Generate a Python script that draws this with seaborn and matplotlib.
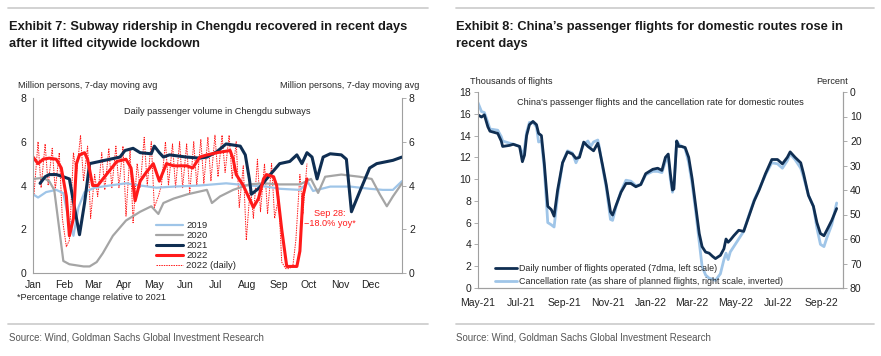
import numpy as np
import pandas as pd
import matplotlib
matplotlib.use('Agg')
import matplotlib.pyplot as plt
import matplotlib.dates as mdates
from matplotlib.lines import Line2D
import seaborn as sns

# ================= EXHIBIT 7: Chengdu subway (million persons, 7dma) =================
# x = day of year (0 = Jan 1)
days_2019 = [0, 5, 13, 23, 30, 35, 40, 45, 51, 61, 76, 92, 106, 122, 139, 165, 191, 214, 231, 244, 264, 272, 277, 294, 314, 333, 346, 356, 365]
vals_2019 = [3.6, 3.45, 3.7, 3.8, 3.65, 2.5, 1.7, 3.0, 3.7, 3.9, 4.0, 4.1, 4.0, 3.9, 3.95, 4.0, 4.1, 4.0, 3.95, 3.85, 3.8, 4.15, 3.75, 3.95, 3.95, 3.85, 3.8, 3.8, 4.2]

days_2020 = [0, 10, 16, 21, 26, 30, 36, 50, 56, 63, 69, 79, 92, 106, 117, 124, 129, 139, 153, 172, 177, 185, 198, 214, 228, 244, 264, 275, 282, 289, 305, 323, 335, 343, 350, 356, 365]
vals_2020 = [4.3, 4.35, 4.2, 3.8, 2.0, 0.55, 0.4, 0.3, 0.3, 0.5, 0.9, 1.7, 2.4, 2.8, 3.05, 2.7, 3.2, 3.4, 3.6, 3.8, 3.2, 3.5, 3.8, 4.05, 4.1, 4.05, 4.05, 4.3, 3.66, 4.4, 4.5, 4.4, 4.3, 3.6, 3.05, 3.5, 4.1]

days_2021 = [7, 12, 16, 23, 30, 36, 41, 46, 51, 56, 66, 76, 86, 91, 99, 106, 117, 120, 125, 129, 135, 152, 165, 172, 182, 191, 205, 210, 214, 216, 224, 231, 244, 254, 261, 266, 271, 276, 281, 287, 294, 305, 310, 315, 323, 333, 340, 356, 365]
vals_2021 = [4.1, 4.4, 4.5, 4.5, 4.4, 4.3, 3.0, 1.75, 3.2, 5.0, 5.1, 5.2, 5.3, 5.6, 5.7, 5.5, 5.45, 5.8, 5.5, 5.3, 5.4, 5.3, 5.25, 5.3, 5.55, 5.9, 5.8, 5.4, 4.3, 3.6, 3.9, 4.3, 5.0, 5.1, 5.4, 5.0, 5.5, 5.3, 4.3, 5.3, 5.45, 5.4, 5.2, 2.8, 3.7, 4.8, 5.0, 5.15, 5.3]

days_2022 = [0, 5, 10, 16, 23, 28, 33, 36, 40, 43, 46, 51, 54, 59, 64, 76, 83, 92, 97, 101, 106, 112, 119, 122, 125, 132, 139, 152, 158, 165, 172, 182, 195, 198, 201, 208, 218, 223, 228, 231, 238, 241, 246, 251, 261, 264, 267, 271]
vals_2022 = [5.3, 5.0, 5.2, 5.25, 5.2, 4.8, 3.5, 1.7, 2.5, 5.0, 5.4, 5.5, 5.2, 4.0, 4.0, 4.7, 5.1, 5.2, 4.8, 3.3, 4.2, 4.6, 5.0, 4.6, 4.2, 5.0, 4.9, 4.9, 4.8, 5.3, 5.4, 5.5, 5.6, 5.2, 4.5, 4.0, 3.0, 3.4, 4.3, 4.5, 4.4, 4.0, 2.0, 0.3, 0.3, 1.0, 3.5, 4.3]

# daily 2022: weekend trough / weekday peak pairs
days_2022d = [1, 5, 8, 12, 15, 19, 22, 26, 29, 33, 36, 40, 43, 47, 50, 54, 57, 61, 64, 68,
              71, 75, 78, 82, 85, 89, 92, 96, 99, 103, 106, 110, 113, 117, 120, 124, 127, 131, 134, 138,
              141, 145, 148, 152, 155, 159, 162, 166, 169, 173, 176, 180, 183, 187, 190, 194, 197, 201, 204, 208,
              211, 215, 218, 222, 225, 229, 232, 236, 239, 243, 246, 250, 253, 257, 260, 264, 267, 271]
vals_2022d = [3.6, 6.0, 3.9, 5.9, 4.0, 5.7, 3.8, 5.5, 2.5, 1.2, 1.5, 5.5, 4.5, 6.3, 4.2, 5.8, 2.5, 4.5, 3.5, 5.5,
              3.8, 5.7, 3.9, 5.8, 3.9, 5.8, 2.6, 5.6, 2.3, 5.0, 3.9, 6.2, 4.0, 6.0, 3.0, 3.5, 4.0, 6.0, 4.0, 5.9,
              3.9, 6.0, 3.9, 5.9, 3.6, 6.0, 4.0, 6.1, 4.1, 6.2, 4.2, 6.3, 4.4, 6.3, 4.6, 6.3, 4.3, 6.0, 3.0, 4.9,
              1.5, 4.0, 2.5, 5.2, 2.8, 5.0, 2.7, 5.0, 2.5, 3.5, 0.5, 0.2, 0.2, 0.3, 1.5, 4.5, 2.7, 5.0]

month_starts = [0, 31, 59, 90, 120, 151, 181, 212, 243, 273, 304, 334]
month_names = ['Jan', 'Feb', 'Mar', 'Apr', 'May', 'Jun', 'Jul', 'Aug', 'Sep', 'Oct', 'Nov', 'Dec']

# ================= EXHIBIT 8: flights (thousands) and cancellation rate (%) =================
# x = days since 2021-05-01
flight_days = [0, 5, 9, 14, 17, 28, 33, 35, 45, 50, 59, 63, 66, 69, 73, 78, 83, 86, 90, 94, 99, 104, 108, 113,
               120, 127, 134, 139, 144, 150, 156, 160, 164, 170, 172, 177, 182, 188, 191, 196, 203, 210, 217, 224,
               231, 238, 248, 255, 261, 266, 270, 273, 276, 278, 282, 285, 289, 294, 299, 304, 309, 314, 318, 323,
               328, 333, 337, 344, 349, 352, 355, 358, 363, 370, 377, 384, 392, 399, 408, 417, 425, 432, 439, 443,
               450, 458, 462, 469, 476, 481, 486, 491, 495, 502, 509]
flights = [15.9, 15.7, 15.9, 14.8, 14.4, 14.2, 13.5, 13.0, 13.1, 13.2, 13.0, 11.6, 12.2, 14.0, 15.0, 15.3, 15.0, 14.2, 14.0, 11.5, 7.5, 7.2, 6.6, 9.0,
           11.5, 12.5, 12.3, 11.9, 12.0, 13.4, 13.0, 12.8, 12.6, 13.3, 12.8, 11.2, 9.5, 7.0, 6.7, 7.6, 8.8, 9.6, 9.6, 9.3,
           9.5, 10.5, 10.9, 11.0, 10.8, 12.0, 12.3, 10.5, 9.0, 9.1, 13.5, 13.0, 13.0, 12.9, 12.0, 10.0, 7.5, 5.0, 3.8, 3.3,
           3.2, 2.9, 2.7, 3.0, 3.6, 4.5, 4.2, 4.4, 4.8, 5.3, 5.2, 6.5, 8.0, 9.0, 10.5, 11.8, 11.8, 11.4, 12.0, 12.5,
           12.0, 11.5, 10.5, 8.5, 7.5, 6.0, 5.0, 4.8, 5.3, 6.2, 7.3]
cancel_rate = [4.4, 8.0, 8.4, 12.4, 15.1, 15.6, 18.2, 20.0, 20.9, 21.3, 22.2, 25.8, 23.1, 16.4, 12.4, 12.4, 14.2, 20.4, 20.0, 31.1, 53.3, 54.2, 55.1, 42.2,
               28.9, 24.0, 24.9, 28.9, 25.8, 21.3, 20.0, 22.2, 20.4, 19.6, 22.2, 31.1, 39.1, 52.0, 52.4, 46.7, 40.4, 36.0, 36.4, 38.2,
               37.8, 33.8, 32.4, 32.4, 32.9, 28.4, 26.7, 35.6, 40.9, 37.8, 20.0, 21.3, 22.2, 23.1, 28.9, 37.8, 48.9, 61.3, 71.1, 74.7,
               76.0, 76.4, 76.9, 74.2, 68.4, 65.8, 68.4, 65.3, 63.1, 60.0, 56.9, 50.7, 44.0, 39.6, 33.8, 28.9, 29.3, 31.1, 28.0, 25.3,
               27.6, 31.1, 34.7, 42.2, 46.7, 55.6, 62.2, 63.1, 59.6, 54.2, 45.3]

navy = '#0f2e52'
lightblue = '#9fc5e8'
grey = '#a5a5a5'
red = '#ff1a1a'
spine_col = '#a0a0a0'

sns.set_style('white')
plt.rcParams['font.family'] = ['Liberation Sans', 'DejaVu Sans']

fig = plt.figure(figsize=(8.81, 3.56), dpi=100)
W, H = 881.0, 356.0
small = 6.6


def fx(px):
    return px / W


def fy(py):
    return 1 - py / H


def style_axes(ax):
    for s in ['left', 'right', 'bottom']:
        ax.spines[s].set_color(spine_col)
        ax.spines[s].set_linewidth(0.8)
    ax.spines['top'].set_visible(False)
    ax.tick_params(axis='both', labelsize=7.5, colors='#222222', length=3, width=0.6, direction='out', pad=2)
    ax.tick_params(axis='both', color=spine_col)
    ax.set_xlabel('')
    ax.set_ylabel('')


# ---------- left chart ----------
ax1 = fig.add_axes([fx(33), fy(273), fx(402) - fx(33), fy(98) - fy(273)])
sns.lineplot(x=days_2022d, y=vals_2022d, ax=ax1, color=red, lw=0.7, linestyle=(0, (1.5, 1)), label='2022 (daily)')
sns.lineplot(x=days_2019, y=vals_2019, ax=ax1, color=lightblue, lw=1.6, label='2019')
sns.lineplot(x=days_2020, y=vals_2020, ax=ax1, color=grey, lw=1.6, label='2020')
sns.lineplot(x=days_2021, y=vals_2021, ax=ax1, color=navy, lw=2.2, label='2021')
sns.lineplot(x=days_2022, y=vals_2022, ax=ax1, color=red, lw=2.2, label='2022')
ax1.set_xlim(0, 365)
ax1.set_ylim(0, 8)
ax1.set_yticks([0, 2, 4, 6, 8])
ax1.set_xticks(month_starts)
ax1.set_xticklabels(month_names)
ax1.tick_params(axis='y', right=True, labelright=True)
style_axes(ax1)
h, l = ax1.get_legend_handles_labels()
order = [l.index(k) for k in ['2019', '2020', '2021', '2022', '2022 (daily)']]
ax1.legend([h[i] for i in order], [l[i] for i in order], loc='lower left', bbox_to_anchor=(0.315, -0.02),
           frameon=False, fontsize=6.8, handlelength=2.9, handletextpad=0.3, labelspacing=0.1, borderpad=0.2)
ax1.text(0.5, 0.925, 'Daily passenger volume in Chengdu subways', transform=ax1.transAxes,
         ha='center', va='center', fontsize=small)
ax1.text(0.805, 0.31, 'Sep 28:\n\u221218.0% yoy*', transform=ax1.transAxes, ha='center', va='center',
         fontsize=small, color=red, linespacing=1.15)

fig.text(fx(18), fy(85), 'Million persons, 7-day moving avg', fontsize=small, va='center', ha='left')
fig.text(fx(419), fy(85), 'Million persons, 7-day moving avg', fontsize=small, va='center', ha='right')
fig.text(fx(17), fy(298), '*Percentage change relative to 2021', fontsize=small, va='center', ha='left')

# ---------- right chart ----------
start = pd.Timestamp('2021-05-01')
fdates = start + pd.to_timedelta(flight_days, unit='D')
df_f = pd.DataFrame({'date': fdates, 'flights': flights, 'cancel': cancel_rate})

ax2 = fig.add_axes([fx(478), fy(288), fx(843) - fx(478), fy(92) - fy(288)])
ax3 = ax2.twinx()
sns.lineplot(data=df_f, x='date', y='cancel', ax=ax3, color=lightblue, lw=2.0)
sns.lineplot(data=df_f, x='date', y='flights', ax=ax2, color=navy, lw=2.0)
ax2.set_zorder(ax3.get_zorder() + 1)
ax2.patch.set_visible(False)
ax2.set_ylim(0, 18)
ax2.set_yticks(range(0, 19, 2))
ax3.set_ylim(80, 0)
ax3.set_yticks(range(0, 81, 10))
ax2.set_xlim(start, pd.Timestamp('2022-10-01'))
ax2.xaxis.set_major_locator(mdates.MonthLocator(bymonth=[1, 3, 5, 7, 9, 11]))
ax2.xaxis.set_major_formatter(mdates.DateFormatter('%b-%y'))
style_axes(ax2)
style_axes(ax3)
ax3.spines['left'].set_visible(False)
ax3.grid(False)
ax2.grid(False)
ax2.tick_params(axis='x', pad=4)

leg_h = [Line2D([0], [0], color=navy, lw=2.0), Line2D([0], [0], color=lightblue, lw=2.0)]
leg_l = ['Daily number of flights operated (7dma, left scale)',
         'Cancellation rate (as share of planned flights, right scale, inverted)']
ax2.legend(leg_h, leg_l, loc='lower left', bbox_to_anchor=(0.03, -0.02), frameon=False, fontsize=6.4,
           handlelength=2.4, handletextpad=0.3, labelspacing=0.45, borderpad=0.2)
ax2.text(0.5, 0.945, "China's passenger flights and the cancellation rate for domestic routes",
         transform=ax2.transAxes, ha='center', va='center', fontsize=small)

fig.text(fx(470), fy(82), 'Thousands of flights', fontsize=small, va='center', ha='left')
fig.text(fx(848), fy(82), 'Percent', fontsize=small, va='center', ha='right')

# ---------- titles, rules, sources ----------
tsize = 9.3
fig.text(fx(9), fy(27), 'Exhibit 7: Subway ridership in Chengdu recovered in recent days',
         fontsize=tsize, fontweight='bold', va='center', ha='left', color='#1a1a1a')
fig.text(fx(9), fy(44), 'after it lifted citywide lockdown',
         fontsize=tsize, fontweight='bold', va='center', ha='left', color='#1a1a1a')
fig.text(fx(456), fy(27), "Exhibit 8: China\u2019s passenger flights for domestic routes rose in",
         fontsize=tsize, fontweight='bold', va='center', ha='left', color='#1a1a1a')
fig.text(fx(456), fy(44), 'recent days',
         fontsize=tsize, fontweight='bold', va='center', ha='left', color='#1a1a1a')

rule = '#cfcfcf'
for y in [8, 324]:
    fig.add_artist(Line2D([fx(8), fx(428)], [fy(y), fy(y)], color=rule, lw=1.3))
    fig.add_artist(Line2D([fx(456), fx(874)], [fy(y), fy(y)], color=rule, lw=1.3))

fig.text(fx(9), fy(338), 'Source: Wind, Goldman Sachs Global Investment Research',
         fontsize=6.9, color='#555555', va='center', ha='left')
fig.text(fx(456), fy(338), 'Source: Wind, Goldman Sachs Global Investment Research',
         fontsize=6.9, color='#555555', va='center', ha='left')

fig.savefig('out.png', dpi=100)
